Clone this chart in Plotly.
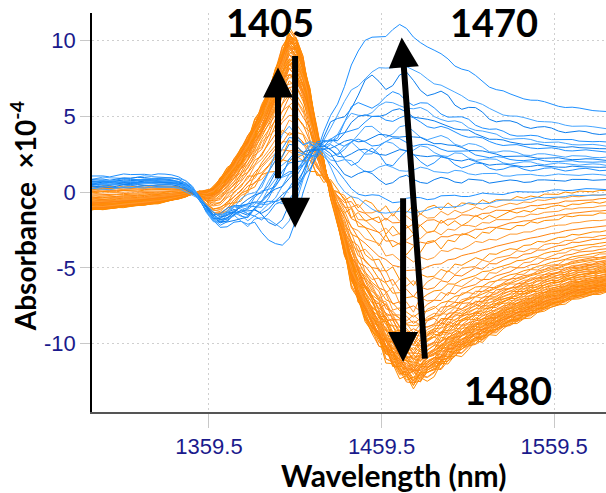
import numpy as np
import plotly.graph_objects as go

# Wavelength grid (nm)
wavelength = np.arange(1290, 1599, 4)

# Orange family: extreme spectra (small-change and large-change), absorbance x1e-4
orange_low = [
    0.35, 0.35, 0.40, 0.40, 0.38, 0.40, 0.42, 0.40, 0.42, 0.45, 0.42, 0.40, 0.38, 0.35,
    0.25, 0.05, -0.40, -1.00, -1.50, -1.60, -1.30, -0.90, -0.50,
    -0.10, 0.30, 0.70, 1.10, 1.50, 1.80, 2.00, 2.00, 1.90, 1.60, 1.20, 0.80, 0.40, 0.10,
    -0.20, -0.40, -0.60, -0.70, -0.80, -0.90, -1.00, -1.00,
    -1.05, -1.05, -1.00, -0.95, -0.90, -0.85, -0.80, -0.75, -0.70, -0.65, -0.60, -0.55, -0.50,
    -0.45, -0.40, -0.35, -0.30, -0.25, -0.20, -0.15, -0.10, -0.05, 0.00, 0.05, 0.10, 0.12,
    0.15, 0.18, 0.20, 0.22, 0.25, 0.27, 0.30,
]
orange_high = [
    -1.20, -1.15, -1.15, -1.10, -1.05, -1.00, -0.95, -0.90, -0.85, -0.80, -0.75, -0.65, -0.55, -0.45,
    -0.30, -0.10, 0.00, 0.05, 0.30, 0.90, 1.50, 2.10, 2.80,
    3.60, 4.60, 5.60, 6.70, 8.00, 9.40, 10.60, 10.20, 8.80, 6.60, 4.00, 2.00, 0.00, -2.00,
    -4.00, -5.80, -7.20, -8.30, -9.20, -10.00, -10.80, -11.50,
    -12.00, -12.40, -12.70, -12.50, -12.20, -11.90, -11.60, -11.20, -10.90, -10.60, -10.30, -10.00, -9.80,
    -9.50, -9.30, -9.00, -8.80, -8.60, -8.40, -8.20, -8.00, -7.80, -7.60, -7.50, -7.30, -7.10,
    -7.00, -6.90, -6.80, -6.70, -6.60, -6.50, -6.40,
]
orange_ripple = [
    0.02, -0.02, 0.03, 0.00, -0.03, 0.02, 0.00, -0.02, 0.03, -0.01, 0.02, 0.00, -0.02, 0.01,
    0.00, 0.05, -0.05, 0.08, -0.06, 0.10, -0.08, 0.15, -0.10,
    0.20, -0.15, 0.25, 0.10, -0.20, 0.30, -0.25, 0.20, 0.35, -0.30, 0.25, -0.20, 0.35, 0.00,
    -0.30, 0.40, -0.25, 0.30, 0.10, -0.35, 0.40, -0.30,
    0.30, -0.20, 0.35, -0.30, 0.20, 0.25, -0.25, 0.20, -0.15, 0.20, 0.05, -0.18, 0.15,
    -0.10, 0.12, 0.00, -0.10, 0.10, -0.05, 0.08, -0.08, 0.06, 0.00, -0.06, 0.07, -0.04,
    0.05, 0.00, -0.05, 0.04, -0.02, 0.03, 0.00,
]
orange_weight = [
    0.02, 0.06, 0.10, 0.13, 0.17, 0.21, 0.24, 0.30, 0.36, 0.41,
    0.45, 0.48, 0.52, 0.55, 0.58, 0.61, 0.63, 0.65, 0.67, 0.69,
    0.70, 0.72, 0.73, 0.74, 0.75, 0.76, 0.77, 0.78, 0.79, 0.80,
    0.81, 0.82, 0.83, 0.84, 0.845, 0.85, 0.86, 0.865, 0.87, 0.875,
    0.88, 0.885, 0.89, 0.895, 0.90, 0.905, 0.91, 0.915, 0.92, 0.925,
    0.93, 0.935, 0.94, 0.945, 0.95, 0.955, 0.96, 0.965, 0.97, 0.975,
    0.98, 0.985, 0.99, 1.00, 0.66, 0.71, 0.79, 0.86, 0.93, 0.97,
]
orange_ripple_a = [0.9, -0.7, 0.4, -1.0, 0.6, -0.3, 1.0, -0.5, 0.2, -0.8]
orange_ripple_b = [0.5, 0.0, -0.6, 0.8, -0.3, 0.4, -0.9]

# Blue family: extreme spectra
blue_low = [
    0.20, 0.20, 0.25, 0.20, 0.25, 0.30, 0.25, 0.30, 0.30, 0.35, 0.30, 0.30, 0.30, 0.25,
    0.10, -0.10, -0.50, -1.00, -1.40, -1.50, -1.20, -0.90, -0.60,
    -0.40, -0.10, 0.50, 1.50, 2.60, 3.60, 4.20, 3.80, 3.20, 3.40, 3.00, 2.40, 1.60, 0.80,
    0.20, -0.30, -0.60, -0.90, -1.10, -1.20, -1.30, -1.40,
    -1.40, -1.30, -1.30, -1.20, -1.20, -1.10, -1.00, -1.00, -0.90, -0.90, -0.80, -0.80, -0.70,
    -0.70, -0.60, -0.60, -0.55, -0.50, -0.50, -0.45, -0.40, -0.40, -0.35, -0.30, -0.30, -0.25,
    -0.25, -0.20, -0.20, -0.20, -0.20, -0.15, -0.15,
]
blue_high = [
    1.00, 1.05, 1.10, 1.05, 1.10, 1.15, 1.10, 1.15, 1.20, 1.15, 1.20, 1.15, 1.10, 1.00,
    0.80, 0.40, -0.30, -1.20, -2.00, -2.30, -2.10, -1.80, -2.00,
    -2.40, -2.20, -2.60, -2.90, -3.20, -3.60, -3.30, -2.00, 0.00, 1.50, 2.80, 3.80, 4.80, 5.80,
    7.20, 8.60, 9.20, 9.70, 10.00, 10.30, 10.50, 10.80,
    10.90, 10.60, 10.20, 10.00, 9.70, 9.30, 9.00, 8.70, 8.40, 8.20, 7.90, 7.60, 7.30,
    7.00, 6.80, 6.60, 6.40, 6.30, 6.20, 6.10, 6.00, 5.90, 5.80, 5.70, 5.60, 5.55,
    5.50, 5.45, 5.40, 5.35, 5.30, 5.30, 5.25,
]
blue_ripple_1 = [
    0.05, 0.03, -0.02, -0.05, -0.03, 0.02, 0.05, 0.04, -0.01, -0.04, -0.03, 0.02, 0.04, 0.02,
    -0.05, -0.10, -0.05, 0.10, 0.20, 0.10, -0.15, -0.30, -0.10,
    0.25, 0.45, 0.20, -0.30, -0.50, -0.10, 0.40, 0.55, 0.10, -0.45, -0.40, 0.20, 0.60, 0.30,
    -0.35, -0.60, -0.10, 0.50, 0.60, 0.05, -0.50, -0.40,
    0.15, 0.45, 0.20, -0.25, -0.35, 0.00, 0.30, 0.25, -0.15, -0.25, 0.05, 0.20, 0.10,
    -0.12, -0.15, 0.05, 0.15, 0.08, -0.08, -0.12, 0.02, 0.10, 0.06, -0.06, -0.08, 0.02,
    0.07, 0.04, -0.04, -0.05, 0.02, 0.04, 0.01,
]
blue_ripple_2 = [
    -0.03, 0.02, 0.05, 0.03, -0.02, -0.05, -0.02, 0.03, 0.05, 0.01, -0.04, -0.03, 0.01, 0.04,
    0.08, 0.02, -0.12, -0.15, 0.05, 0.22, 0.15, -0.10, -0.30,
    -0.15, 0.30, 0.45, 0.05, -0.40, -0.35, 0.15, 0.50, 0.25, -0.30, -0.55, -0.05, 0.45, 0.50,
    -0.05, -0.50, -0.35, 0.20, 0.55, 0.25, -0.30, -0.45,
    -0.05, 0.35, 0.30, -0.10, -0.30, -0.10, 0.25, 0.25, -0.05, -0.20, -0.10, 0.15, 0.15,
    -0.02, -0.14, -0.06, 0.10, 0.12, 0.00, -0.10, -0.06, 0.06, 0.09, 0.00, -0.07, -0.05,
    0.04, 0.06, 0.00, -0.05, -0.02, 0.03, 0.02,
]
blue_weight = [1.00, 0.80, 0.73, 0.63, 0.59, 0.55, 0.52, 0.45, 0.42, 0.39, 0.36, 0.33, 0.30, 0.24, 0.18, 0.07, 0.00]
blue_ripple_a = [0.8, -0.6, 1.0, 0.3, -0.9, 0.6, -0.4, 1.0, -0.7, 0.5, -1.0, 0.7, 0.2, -0.8, 0.9, -0.5, 0.6]
blue_ripple_b = [-0.5, 0.9, 0.2, -1.0, 0.6, -0.7, 1.0, -0.3, 0.8, -0.9, 0.4, -0.6, 1.0, 0.5, -0.4, 0.8, -0.7]

x_tick_values = [1359.5, 1459.5, 1559.5]
x_tick_labels = ["1359.5", "1459.5", "1559.5"]
y_tick_values = [-10, -5, 0, 5, 10]
y_tick_labels = ["-10", "-5", "0", "5", "10"]

o_lo, o_hi, o_rp = np.array(orange_low), np.array(orange_high), np.array(orange_ripple)
b_lo, b_hi = np.array(blue_low), np.array(blue_high)
b_r1, b_r2 = np.array(blue_ripple_1), np.array(blue_ripple_2)

fig = go.Figure()

orange_shades = ["#FF8C00", "#FF9A30", "#FF8410"]
for i, w in enumerate(orange_weight):
    y = (o_lo + w * (o_hi - o_lo)
         + orange_ripple_a[i % len(orange_ripple_a)] * o_rp
         + 0.5 * orange_ripple_b[i % len(orange_ripple_b)] * b_r2)
    fig.add_trace(go.Scatter(x=wavelength, y=y, mode="lines",
                             line=dict(color=orange_shades[i % 3], width=1),
                             hoverinfo="skip", showlegend=False))

blue_shades = ["#1E90FF", "#45A5FF", "#0B7DEE"]
for i, w in enumerate(blue_weight):
    y = b_lo + w * (b_hi - b_lo) + blue_ripple_a[i] * b_r1 + blue_ripple_b[i] * b_r2
    fig.add_trace(go.Scatter(x=wavelength, y=y, mode="lines",
                             line=dict(color=blue_shades[i % 3], width=1),
                             hoverinfo="skip", showlegend=False))

bold_font = dict(family="Lato", size=38, color="black")

annotations = [
    dict(text="<b>1405</b>", xref="paper", yref="paper", x=0.346, y=0.977,
         xanchor="center", yanchor="middle", showarrow=False, font=bold_font),
    dict(text="<b>1470</b>", xref="paper", yref="paper", x=0.782, y=0.977,
         xanchor="center", yanchor="middle", showarrow=False, font=bold_font),
    dict(text="<b>1480</b>", xref="paper", yref="paper", x=0.809, y=0.055,
         xanchor="center", yanchor="middle", showarrow=False, font=bold_font),
    dict(text="<b>Wavelength (nm)</b>", xref="paper", yref="paper", x=0.586, y=-0.157,
         xanchor="center", yanchor="middle", showarrow=False,
         font=dict(family="Lato", size=30, color="black")),
    dict(text="<b>Absorbance  ×10<sup>-4</sup></b>", xref="paper", yref="paper",
         x=-0.134, y=0.491, xanchor="center", yanchor="middle", textangle=-90,
         showarrow=False, font=dict(family="Lato", size=28, color="black")),
]

# Direction arrows (tail -> head, data coordinates)
arrows = [
    (1399.5, 0.81, 1399.5, 8.21),
    (1409.4, 9.07, 1409.4, -2.36),
    (1484.7, -11.08, 1471.2, 10.19),
    (1472.0, -0.31, 1472.0, -11.2),
]
for ax_, ay_, hx, hy in arrows:
    annotations.append(dict(
        x=hx, y=hy, ax=ax_, ay=ay_, xref="x", yref="y", axref="x", ayref="y",
        text="", showarrow=True, arrowhead=2, arrowsize=1.0, arrowwidth=6,
        arrowcolor="black", standoff=0, startstandoff=0))

fig.update_layout(
    width=606, height=493,
    margin=dict(l=92, r=0, t=13, b=81),
    paper_bgcolor="white", plot_bgcolor="white",
    annotations=annotations,
    xaxis=dict(
        range=[1291.7, 1589.6], tickvals=x_tick_values, ticktext=x_tick_labels,
        showgrid=True, gridcolor="#CFCFCF", griddash="2px,3px", gridwidth=1,
        showline=True, linecolor="#555555", linewidth=2,
        ticks="outside", ticklen=14, tickcolor="#C8C8C8", tickwidth=1,
        tickfont=dict(family="Liberation Sans", size=22, color="#1A1A8C"),
        zeroline=False,
    ),
    yaxis=dict(
        range=[-14.5, 11.8], tickvals=y_tick_values, ticktext=y_tick_labels,
        showgrid=True, gridcolor="#CFCFCF", griddash="2px,3px", gridwidth=1,
        showline=True, linecolor="black", linewidth=1.5,
        ticks="outside", ticklen=10, tickcolor="#C8C8C8", tickwidth=1,
        tickfont=dict(family="Liberation Sans", size=22, color="#1A1A8C"),
        zeroline=False,
    ),
)

fig.write_html("out.html")
